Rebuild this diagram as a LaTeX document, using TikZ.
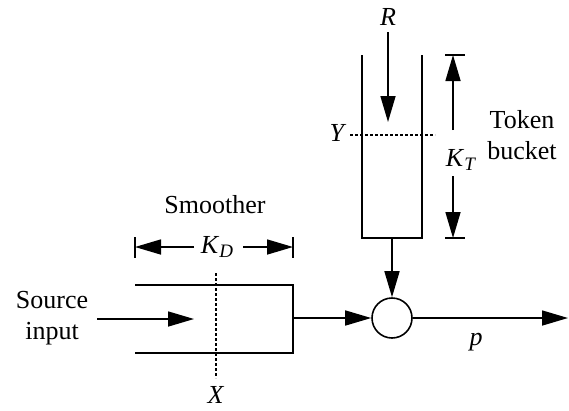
\documentclass[tikz,border=0pt]{standalone}
\usepackage{fontspec}
\setmainfont{Liberation Serif}
\usetikzlibrary{arrows.meta}
\begin{document}
\begin{tikzpicture}[x=1pt,y=-1pt,line width=1.6pt,
  arr/.style={-{Triangle[length=26pt,width=15pt]}},
  lbl/.style={font=\fontsize{26}{31}\selectfont,inner sep=0pt,align=center},
  dsh/.style={line width=1.1pt,dash pattern=on 3pt off 2pt}]
\useasboundingbox (0,0) rectangle (569,410);
% token bucket
\coordinate (bTL) at (362,55);
\coordinate (bBL) at (362,238);
\coordinate (bBR) at (422,238);
\coordinate (bTR) at (422,55);
\coordinate (bucketbot) at (392,238);
\draw (bTL) -- (bBL) -- (bBR) -- (bTR);
\node[circle,draw,minimum size=40pt,inner sep=0pt] (mix) at (392,318) {};
\draw[arr] (bucketbot) -- (mix.north);
% R
\node[lbl] (R) at (388,17) {\textit{R}};
\coordinate (rtip) at (388,122);
\coordinate (rtop) at (388,32);
\draw[arr] (rtop) -- (rtip);
% Y
\node[lbl] (Y) at (338,133) {\textit{Y}};
\coordinate (yl) at (350,135);
\coordinate (yr) at (435,135);
\draw[dsh] (yl) -- (yr);
% K_T
\node[lbl] (KT) at (461,160) {\textit{K}\raisebox{-0.4ex}{\fontsize{19}{19}\selectfont\textit{T}}};
\coordinate (kt1) at (445,55); \coordinate (kt2) at (465,55);
\coordinate (kt3) at (445,238); \coordinate (kt4) at (465,238);
\draw (kt1) -- (kt2); \draw (kt3) -- (kt4);
\coordinate (ktu) at (453,130); \coordinate (ktd) at (453,176);
\coordinate (kttop) at (453,55); \coordinate (ktbot) at (453,238);
\draw[arr] (ktu) -- (kttop);
\draw[arr] (ktd) -- (ktbot);
\node[lbl] (tb) at (522,135) {Token\\bucket};
% smoother
\node[lbl] (sm) at (215,205) {Smoother};
\coordinate (kd1) at (135,237); \coordinate (kd2) at (135,258);
\coordinate (kd3) at (293,237); \coordinate (kd4) at (293,258);
\draw (kd1) -- (kd2); \draw (kd3) -- (kd4);
\node[lbl] (KD) at (217,247) {\textit{K}\raisebox{-0.4ex}{\fontsize{19}{19}\selectfont\textit{D}}};
\coordinate (kdl) at (194,247); \coordinate (kdr) at (243,247);
\coordinate (kdL) at (135,247); \coordinate (kdR) at (293,247);
\draw[arr] (kdl) -- (kdL);
\draw[arr] (kdr) -- (kdR);
\coordinate (sTL) at (135,285); \coordinate (sTR) at (293,285);
\coordinate (sBR) at (293,353); \coordinate (sBL) at (135,353);
\coordinate (sout) at (293,318);
\draw (sTL) -- (sTR) -- (sBR) -- (sBL);
\draw[arr] (sout) -- (mix.west);
\node[lbl] (src) at (52,318) {Source\\input};
\coordinate (inA) at (97,319); \coordinate (inB) at (194,319);
\draw[arr] (inA) -- (inB);
\coordinate (xt) at (216,273); \coordinate (xb) at (216,378);
\draw[dsh] (xt) -- (xb);
\node[lbl] (X) at (216,395) {\textit{X}};
% output
\coordinate (outend) at (568,318);
\draw[arr] (mix.east) -- (outend);
\node[lbl] (p) at (476,342) {\textit{p}};
\end{tikzpicture}
\end{document}
